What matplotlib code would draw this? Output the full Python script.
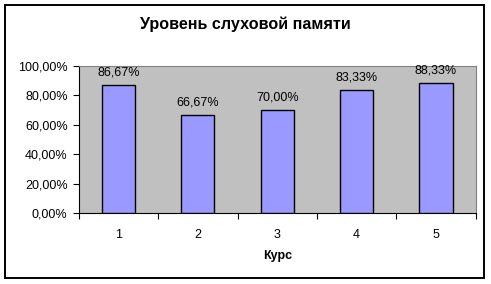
import matplotlib.pyplot as plt
from matplotlib.patches import Rectangle
import numpy as np

plt.rcParams['font.family'] = ['Liberation Sans', 'DejaVu Sans']

courses = ['1', '2', '3', '4', '5']
values = [86.67, 66.67, 70.00, 83.33, 88.33]
yticks = [0, 20, 40, 60, 80, 100]

fig = plt.figure(figsize=(4.91, 2.84), dpi=100)
ax = fig.add_axes([0.1603, 0.249, 0.8086, 0.5197])

x = np.arange(1, len(courses) + 1)
ax.bar(x, values, width=0.42, color='#9999FF', edgecolor='black', linewidth=1.0, zorder=3)
ax.set_facecolor('#C0C0C0')

for xi, v in zip(x, values):
    ax.annotate(('%.2f%%' % v).replace('.', ','), (xi, v), xytext=(0, 7),
                textcoords='offset points', ha='center', va='baseline', fontsize=9)

ax.set_xlim(0.5, len(courses) + 0.5)
ax.set_ylim(0, 100)
ax.set_yticks(yticks)
ax.set_yticklabels([('%.2f%%' % t).replace('.', ',') for t in yticks], fontsize=9)
ax.set_xticks(x)
ax.set_xticklabels(courses, fontsize=9)
ax.set_xticks(np.arange(0.5, len(courses) + 1), minor=True)
ax.tick_params(axis='x', which='major', length=0, pad=11)
ax.tick_params(axis='x', which='minor', length=4, width=0.8, direction='out')
ax.tick_params(axis='y', length=4, width=0.8, direction='out', pad=4)

for side in ['top', 'right']:
    ax.spines[side].set_color('#808080')
    ax.spines[side].set_linewidth(0.8)
for side in ['left', 'bottom']:
    ax.spines[side].set_color('black')
    ax.spines[side].set_linewidth(0.8)

ax.set_xlabel('Курс', fontsize=9, fontweight='bold', labelpad=7)
fig.text(0.5, 1 - 24 / 284, 'Уровень слуховой памяти', ha='center', va='center',
         fontsize=11.6, fontweight='bold')

fig.patches.append(Rectangle((5 / 491, 1 - 278 / 284), 479 / 491, 273 / 284,
                             transform=fig.transFigure, fill=False,
                             edgecolor='black', linewidth=1.4))

fig.savefig('out.png', dpi=100)
